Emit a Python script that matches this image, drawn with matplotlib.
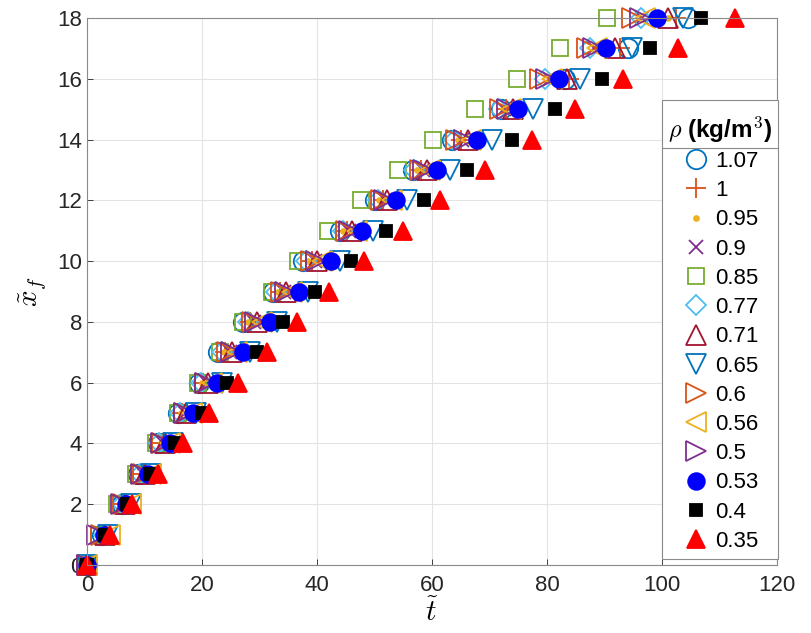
import matplotlib
matplotlib.use("Agg")
import matplotlib.pyplot as plt
from matplotlib.lines import Line2D
from matplotlib.patches import Rectangle

plt.rcParams['font.family'] = ['Liberation Sans', 'DejaVu Sans']
plt.rcParams['mathtext.fontset'] = 'cm'

# front position x_f (0..18) reached at time t for each density
xf = list(range(19))

t_107 = [0, 2.6, 6.0, 8.9, 12.3, 15.8, 19.5, 22.8, 27.1, 32.4, 37.6, 44.0, 50.1, 56.7, 63.5, 72.0, 83.2, 94.1, 104.5]
t_100 = [0, 2.8, 6.2, 9.6, 13.0, 16.6, 20.2, 24.0, 28.4, 33.6, 39.2, 45.2, 51.4, 58.0, 65.0, 72.8, 83.8, 92.7, 102.4]
t_095 = [0, 2.7, 6.2, 9.5, 12.8, 16.4, 20.0, 23.8, 28.0, 33.2, 38.5, 44.6, 50.8, 57.4, 64.5, 72.4, 81.5, 91.0, 101.0]
t_090 = [0, 3.0, 6.5, 9.8, 13.3, 17.0, 20.8, 24.8, 29.0, 34.2, 39.6, 45.6, 51.8, 58.4, 65.2, 72.6, 80.5, 88.2, 96.6]
t_085 = [0, 2.0, 5.2, 8.5, 12.0, 15.8, 19.3, 23.1, 27.1, 32.2, 36.7, 41.9, 47.6, 54.0, 60.2, 67.5, 74.8, 82.3, 90.5]
t_077 = [0, 2.9, 6.1, 9.2, 12.6, 16.2, 19.8, 23.5, 28.0, 32.9, 38.0, 44.6, 50.6, 56.9, 63.8, 71.6, 79.7, 87.4, 96.4]
t_071 = [0, 3.2, 6.6, 10.0, 13.5, 17.2, 21.0, 25.2, 29.5, 34.6, 40.0, 46.0, 52.2, 59.1, 66.3, 74.0, 83.4, 91.8, 101.0]
t_065 = [0, 3.6, 7.6, 11.2, 15.0, 19.0, 23.5, 28.4, 33.0, 38.4, 44.0, 49.7, 55.7, 63.1, 70.4, 77.6, 85.7, 94.8, 103.7]
t_060 = [0, 2.4, 6.3, 9.7, 13.1, 16.8, 20.5, 24.4, 28.7, 33.8, 39.0, 45.0, 51.2, 57.9, 64.2, 71.8, 78.8, 87.0, 94.8]
t_056 = [0, 4.0, 7.6, 11.2, 14.5, 18.2, 21.8, 26.0, 30.4, 35.6, 40.8, 46.9, 53.0, 59.6, 66.8, 73.8, 80.8, 88.7, 97.0]
t_050 = [0, 1.8, 5.9, 9.4, 12.8, 16.8, 20.6, 25.0, 29.3, 34.4, 39.8, 45.6, 51.6, 58.5, 65.5, 73.0, 79.8, 88.0, 96.2]
t_053 = [0, 3.0, 6.8, 10.6, 14.5, 18.4, 22.6, 27.2, 31.8, 36.9, 42.4, 47.8, 53.8, 60.8, 67.8, 74.9, 82.0, 90.3, 99.1]
t_040 = [0, 3.2, 7.0, 11.0, 15.3, 20.0, 24.3, 29.5, 34.1, 39.7, 45.9, 52.0, 58.6, 66.1, 73.9, 81.4, 89.6, 97.9, 106.7]
t_035 = [0, 4.0, 7.9, 12.3, 16.7, 21.2, 26.3, 31.3, 36.5, 42.1, 48.1, 54.9, 61.4, 69.2, 77.4, 84.9, 93.2, 102.7, 112.7]

labels = ['1.07', '1', '0.95', '0.9', '0.85', '0.77', '0.71', '0.65', '0.6', '0.56', '0.5', '0.53', '0.4', '0.35']
series = [t_107, t_100, t_095, t_090, t_085, t_077, t_071, t_065, t_060, t_056, t_050, t_053, t_040, t_035]

# (marker, size, colour, filled)
styles = [
    ('o', 14, '#0072BD', False),
    ('+', 15, '#D95319', False),
    ('.', 7, '#EDB120', True),
    ('x', 10.5, '#7E2F8E', False),
    ('s', 12, '#77AC30', False),
    ('D', 10.5, '#4DBEEE', False),
    ('^', 15, '#A2142F', False),
    ('v', 15, '#0072BD', False),
    ('>', 15, '#D95319', False),
    ('<', 15, '#EDB120', False),
    ('>', 15, '#7E2F8E', False),
    ('o', 12, '#0000FF', True),
    ('s', 9, '#000000', True),
    ('^', 13, '#FF0000', True),
]

fig = plt.figure(figsize=(8.11, 6.33), dpi=100)
ax = fig.add_axes([87/811, 68/633, 690/811, 547/633])

for t, lab, (m, ms, c, filled) in zip(series, labels, styles):
    ax.plot(t, xf, linestyle='none', marker=m, markersize=ms,
            markeredgecolor=c, markerfacecolor=c if filled else 'none',
            markeredgewidth=1.3, label=lab, clip_on=False)

ax.set_xlim(0, 120)
ax.set_ylim(0, 18)
ax.set_xticks(range(0, 121, 20))
ax.set_yticks(range(0, 19, 2))
ax.grid(True, color='#e3e3e3', linewidth=0.8)
ax.set_axisbelow(True)
ax.tick_params(direction='in', length=4, labelsize=16, colors='#262626', width=0.6)
ax.tick_params(axis='x', pad=7)
for s in ax.spines.values():
    s.set_color('#8a8a8a')
    s.set_linewidth(0.8)

ax.set_xlabel(r'$\tilde{t}$', fontsize=21, labelpad=2)
ax.set_ylabel(r'$\tilde{x}_f$', fontsize=21, labelpad=6)

leg = ax.legend(loc='upper right', bbox_to_anchor=(772/811, 1 - 115/633),
                bbox_transform=fig.transFigure, fontsize=16, frameon=False,
                labelspacing=0.37, handlelength=1.3, handletextpad=0.2,
                borderpad=0, borderaxespad=0,
                title=r'$\rho$ (kg/m$^\mathbf{3}$)')
leg.get_title().set_fontsize(17.5)
leg.get_title().set_fontweight('bold')
leg._legend_box.sep = 4
leg.set_zorder(6)

# white box with border around the legend, plus a rule under its title
fig.canvas.draw()
inv = fig.transFigure.inverted()
lb = leg.get_window_extent()
tb = leg.get_title().get_window_extent()
(fx0, fy0), (fx1, fy1) = inv.transform([(lb.x0 - 6, lb.y0 - 7), (lb.x1 + 6, lb.y1 + 15)])
ax.add_patch(Rectangle((fx0, fy0), fx1 - fx0, fy1 - fy0, transform=fig.transFigure,
                       facecolor='white', edgecolor='#8a8a8a', linewidth=0.8,
                       zorder=5, clip_on=False))
(_, sy), = inv.transform([(0, tb.y0 - 3)])
ax.add_line(Line2D([fx0, fx1], [sy, sy], transform=fig.transFigure,
                   color='#8a8a8a', linewidth=0.8, zorder=7, clip_on=False))

fig.savefig('out.png', dpi=100)
